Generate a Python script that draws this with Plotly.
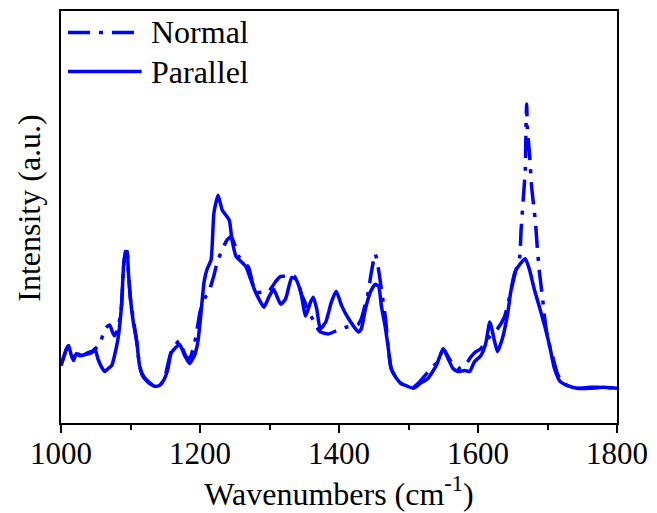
import plotly.graph_objects as go

# Raman spectra (Intensity in a.u.)
parallel_wn = [1000, 1008, 1011, 1015, 1018, 1022, 1027, 1034, 1041, 1046, 1049, 1053, 1058, 1063,
               1068, 1073, 1077, 1082, 1087, 1090, 1093, 1095, 1097, 1100, 1104, 1109, 1113, 1118,
               1125, 1135, 1142, 1149, 1154, 1158, 1166, 1171, 1178, 1185, 1192, 1197, 1201, 1206,
               1210, 1216, 1220, 1226, 1232, 1242, 1246, 1252, 1256, 1266, 1273, 1280, 1292, 1299,
               1306, 1316, 1323, 1332, 1338, 1345, 1352, 1359, 1363, 1368, 1373, 1381, 1389, 1396,
               1404, 1414, 1428, 1432, 1438, 1445, 1452, 1457, 1461, 1467, 1471, 1475, 1481, 1489,
               1499, 1507, 1517, 1528, 1540, 1550, 1557, 1564, 1571, 1581, 1588, 1595, 1604, 1611,
               1617, 1624, 1628, 1635, 1643, 1647, 1653, 1660, 1668, 1674, 1681, 1688, 1696, 1703,
               1710, 1718, 1728, 1743, 1761, 1779, 1800]
parallel_int = [58, 75, 78, 68, 63, 70, 68, 69, 70, 72, 75, 65, 57, 52,
                55, 58, 68, 85, 118, 158, 173, 173, 152, 125, 102, 82, 58, 48,
                42, 37, 38, 45, 55, 70, 77, 79, 68, 60, 68, 82, 108, 143,
                155, 165, 212, 230, 215, 205, 185, 168, 165, 158, 145, 132, 117, 127,
                135, 120, 125, 147, 145, 132, 108, 122, 127, 115, 95, 102, 122, 133,
                118, 105, 92, 95, 115, 132, 140, 138, 118, 95, 75, 55, 47, 40,
                37, 35, 40, 45, 58, 75, 65, 55, 52, 53, 52, 62, 68, 80,
                102, 82, 72, 85, 112, 132, 152, 160, 166, 155, 135, 118, 98, 78,
                55, 42, 38, 35, 35, 36, 35]

normal_wn = [1000, 1008, 1011, 1016, 1019, 1023, 1030, 1039, 1046, 1056, 1063, 1070, 1074, 1077,
             1082, 1087, 1090, 1093, 1095, 1097, 1100, 1104, 1109, 1113, 1117, 1124, 1135, 1142,
             1149, 1153, 1159, 1166, 1170, 1175, 1180, 1185, 1192, 1196, 1200, 1206, 1213, 1220,
             1225, 1232, 1239, 1245, 1250, 1256, 1263, 1270, 1275, 1280, 1289, 1299, 1309, 1316,
             1328, 1336, 1342, 1346, 1351, 1356, 1362, 1368, 1373, 1385, 1399, 1411, 1421, 1428,
             1432, 1436, 1442, 1446, 1452, 1455, 1458, 1462, 1467, 1471, 1475, 1481, 1489, 1499,
             1507, 1514, 1524, 1532, 1542, 1550, 1557, 1564, 1571, 1581, 1590, 1597, 1604, 1614,
             1628, 1638, 1647, 1654, 1660, 1662, 1665, 1668, 1669, 1670, 1671, 1674, 1677, 1680,
             1683, 1685, 1688, 1693, 1697, 1701, 1707, 1714, 1720, 1728, 1743, 1761, 1779, 1800]
normal_int = [58, 75, 78, 68, 64, 70, 68, 71, 73, 80, 95, 99, 92, 88,
              95, 118, 158, 173, 173, 152, 125, 105, 82, 58, 48, 42, 37, 38,
              45, 57, 73, 80, 83, 75, 67, 65, 80, 95, 112, 125, 133, 149,
              163, 175, 185, 188, 180, 168, 163, 157, 143, 132, 132, 133, 143, 148,
              148, 148, 140, 130, 122, 112, 105, 97, 92, 90, 94, 97, 98, 100,
              105, 115, 132, 150, 171, 163, 150, 130, 105, 75, 55, 47, 40, 37,
              36, 40, 48, 55, 62, 75, 67, 59, 55, 58, 67, 72, 75, 85,
              95, 107, 132, 153, 168, 195, 225, 255, 295, 322, 298, 273, 240, 220,
              200, 180, 155, 125, 100, 83, 68, 50, 42, 38, 35, 36, 36, 35]

x_ticks = [1000, 1200, 1400, 1600, 1800]
legend_names = ["Normal", "Parallel"]

BLUE = "#0000FF"
FONT = "Liberation Serif, Times New Roman, serif"

fig = go.Figure()
fig.add_trace(go.Scatter(x=normal_wn, y=normal_int, mode="lines", name=legend_names[0],
                         line=dict(color=BLUE, width=3.5, dash="22px,9px,4px,9px",
                                   shape="spline", smoothing=0.5)))
fig.add_trace(go.Scatter(x=parallel_wn, y=parallel_int, mode="lines", name=legend_names[1],
                         line=dict(color=BLUE, width=3.5, shape="spline", smoothing=0.5)))

# legend drawn manually to match the long line samples
fig.add_shape(type="line", xref="paper", yref="paper", x0=0.0125, x1=0.145, y0=0.948, y1=0.948,
              line=dict(color=BLUE, width=3.5, dash="22px,9px,4px,9px"))
fig.add_shape(type="line", xref="paper", yref="paper", x0=0.0125, x1=0.145, y0=0.853, y1=0.853,
              line=dict(color=BLUE, width=3.5))
fig.add_annotation(xref="paper", yref="paper", x=0.159, y=0.948, text=legend_names[0],
                   showarrow=False, xanchor="left", yanchor="middle",
                   font=dict(family=FONT, size=32, color="black"))
fig.add_annotation(xref="paper", yref="paper", x=0.159, y=0.853, text=legend_names[1],
                   showarrow=False, xanchor="left", yanchor="middle",
                   font=dict(family=FONT, size=32, color="black"))
fig.add_annotation(xref="paper", yref="paper", x=-0.059, y=0.523, text="Intensity (a.u.)",
                   showarrow=False, textangle=-90, xanchor="center", yanchor="middle",
                   font=dict(family=FONT, size=32, color="black"))

fig.update_layout(
    width=657, height=513,
    margin=dict(l=61, r=33, t=9, b=88),
    paper_bgcolor="white", plot_bgcolor="white",
    showlegend=False,
    font=dict(family=FONT, size=31, color="black"),
    xaxis=dict(range=[1000, 1800], tickvals=x_ticks, ticktext=[str(v) for v in x_ticks],
               ticks="outside", ticklen=8, tickwidth=2, tickcolor="black",
               ticklabelstandoff=-6,
               minor=dict(dtick=100, ticks="outside", ticklen=5, tickwidth=2, tickcolor="black"),
               showline=True, linecolor="black", linewidth=2, mirror=True, showgrid=False,
               zeroline=False, tickfont=dict(family=FONT, size=31, color="black"),
               title=dict(text="Wavenumbers (cm<sup>-1</sup>)", standoff=10,
                          font=dict(family=FONT, size=32, color="black"))),
    yaxis=dict(range=[0, 416], showticklabels=False, ticks="", showline=True,
               linecolor="black", linewidth=2, mirror=True, showgrid=False, zeroline=False),
)

fig.write_html("out.html", config={"displayModeBar": False},
               post_script="document.body.style.margin='0';document.body.style.padding='0';")
